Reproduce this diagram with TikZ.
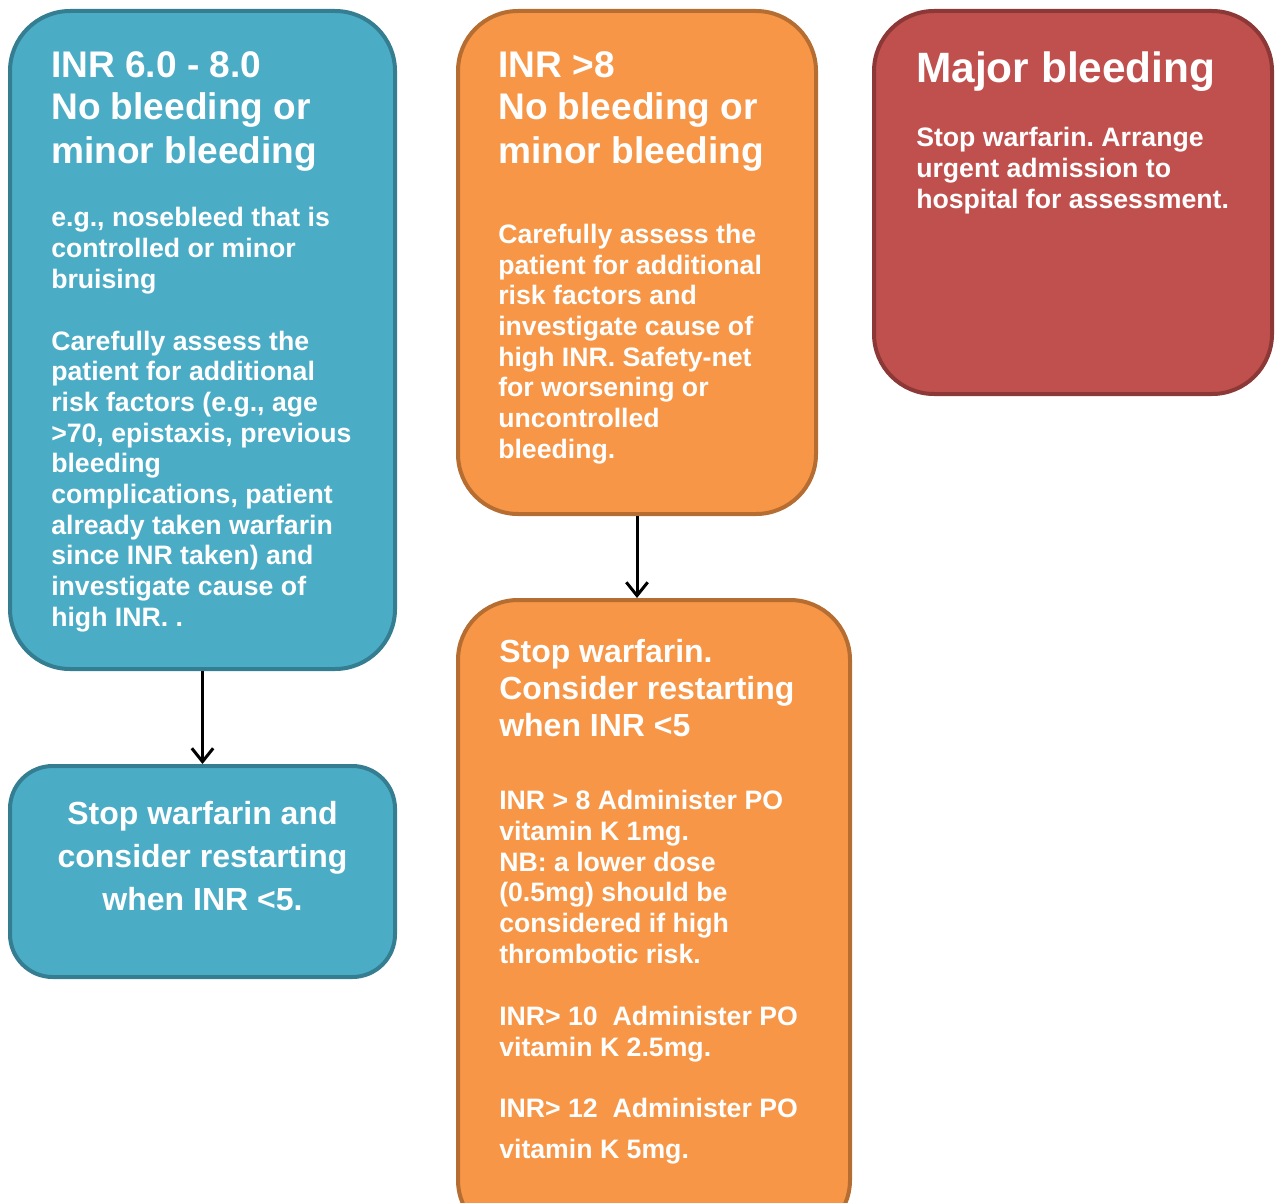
\documentclass[tikz,border=0pt]{standalone}
\usepackage{fontspec}
\setmainfont{Liberation Sans}
\frenchspacing
\usetikzlibrary{arrows.meta,positioning}
\definecolor{inrblue}{RGB}{75,172,198}
\definecolor{inrblueedge}{RGB}{53,125,145}
\definecolor{inrorange}{RGB}{247,150,70}
\definecolor{inrorangeedge}{RGB}{182,109,49}
\definecolor{inrred}{RGB}{192,80,77}
\definecolor{inrrededge}{RGB}{140,56,54}
\tikzset{
  card/.style    = {rectangle,rounded corners=45pt,line width=3pt,inner sep=0pt},
  bluecard/.style  = {card,fill=inrblue,draw=inrblueedge},
  orangecard/.style= {card,fill=inrorange,draw=inrorangeedge},
  redcard/.style   = {card,fill=inrred,draw=inrrededge},
  % texts are placed by the baseline of their last line
  txt/.style     = {anchor=base west,align=left,inner sep=0pt,text=white},
  head/.style    = {txt,font=\bfseries\fontsize{27.8}{32.25}\selectfont},
  body/.style    = {txt,font=\bfseries\fontsize{20}{23}\selectfont},
  arrow/.style   = {-{Straight Barb[length=10pt,width=16pt,line width=2.25pt]},
                    line width=2.25pt,black},
}

\begin{document}
\begin{tikzpicture}[x=0.75pt,y=-0.75pt]
  \useasboundingbox (0,0) rectangle (1276,1202);
  \clip (0,0) rectangle (1276,1202);

  % boxes
  \node[bluecard,minimum width=288.75pt,minimum height=493.5pt] (low) at (202.5,340) {};
  \node[bluecard,minimum width=288.75pt,minimum height=158.25pt,rounded corners=32pt]
    (lowstop) at (202.5,871.5) {};
  \node[orangecard,minimum width=268.5pt,minimum height=377.25pt] (high) at (637,262.5) {};
  \node[orangecard,minimum width=294pt,minimum height=480pt] (highstop) at (654,920) {};
  \node[redcard,minimum width=298.5pt,minimum height=287.25pt] (major) at (1073,202.5) {};

  % texts
  \node[head] (lowhead) at (51,163) {INR 6.0 - 8.0\\No bleeding or\\minor bleeding};
  \node[body] (lowex) at (51,288) {e.g., nosebleed that is\\controlled or minor\\bruising};
  \node[body] (lowbody) at (51,626) {Carefully assess the\\patient for additional\\%
    risk factors (e.g., age\\>70, epistaxis, previous\\bleeding\\complications, patient\\%
    already taken warfarin\\since INR taken) and\\investigate cause of\\high INR. .};

  \node[head] (highhead) at (498,163) {INR >8\\No bleeding or\\minor bleeding};
  \node[body] (highbody) at (498,458) {Carefully assess the\\patient for additional\\%
    risk factors and\\investigate cause of\\high INR. Safety-net\\for worsening or\\%
    uncontrolled\\bleeding.};

  \node[txt,font=\bfseries\fontsize{31.8}{38}\selectfont] (majorhead) at (916,83) {Major bleeding};
  \node[body] (majorbody) at (916,208) {Stop warfarin. Arrange\\urgent admission to\\%
    hospital for assessment.};

  \node[txt,anchor=base,align=center,font=\bfseries\fontsize{24}{32}\selectfont]
    (lowstoptext) at (202.5,910) {Stop warfarin and\\consider restarting\\when INR <5.};

  \node[txt,font=\bfseries\fontsize{24}{27.75}\selectfont] (stophead) at (499,736)
    {Stop warfarin.\\Consider restarting\\when INR <5};
  \node[body] (dose1) at (499,963) {INR > 8 Administer PO\\vitamin K 1mg.\\%
    NB: a lower dose\\(0.5mg) should be\\considered if high\\thrombotic risk.};
  \node[body] (dose2) at (499,1056) {INR> 10\ \ Administer PO\\vitamin K 2.5mg.};
  \node[body] (dose3) at (499,1117) {INR> 12\ \ Administer PO};
  \node[body] (dose3b) at (499,1158) {vitamin K 5mg.};

  % connectors
  \draw[arrow] (low.south) -- (lowstop.north);
  \draw[arrow] (high.south) -- (high.south |- highstop.north);
\end{tikzpicture}
\end{document}
